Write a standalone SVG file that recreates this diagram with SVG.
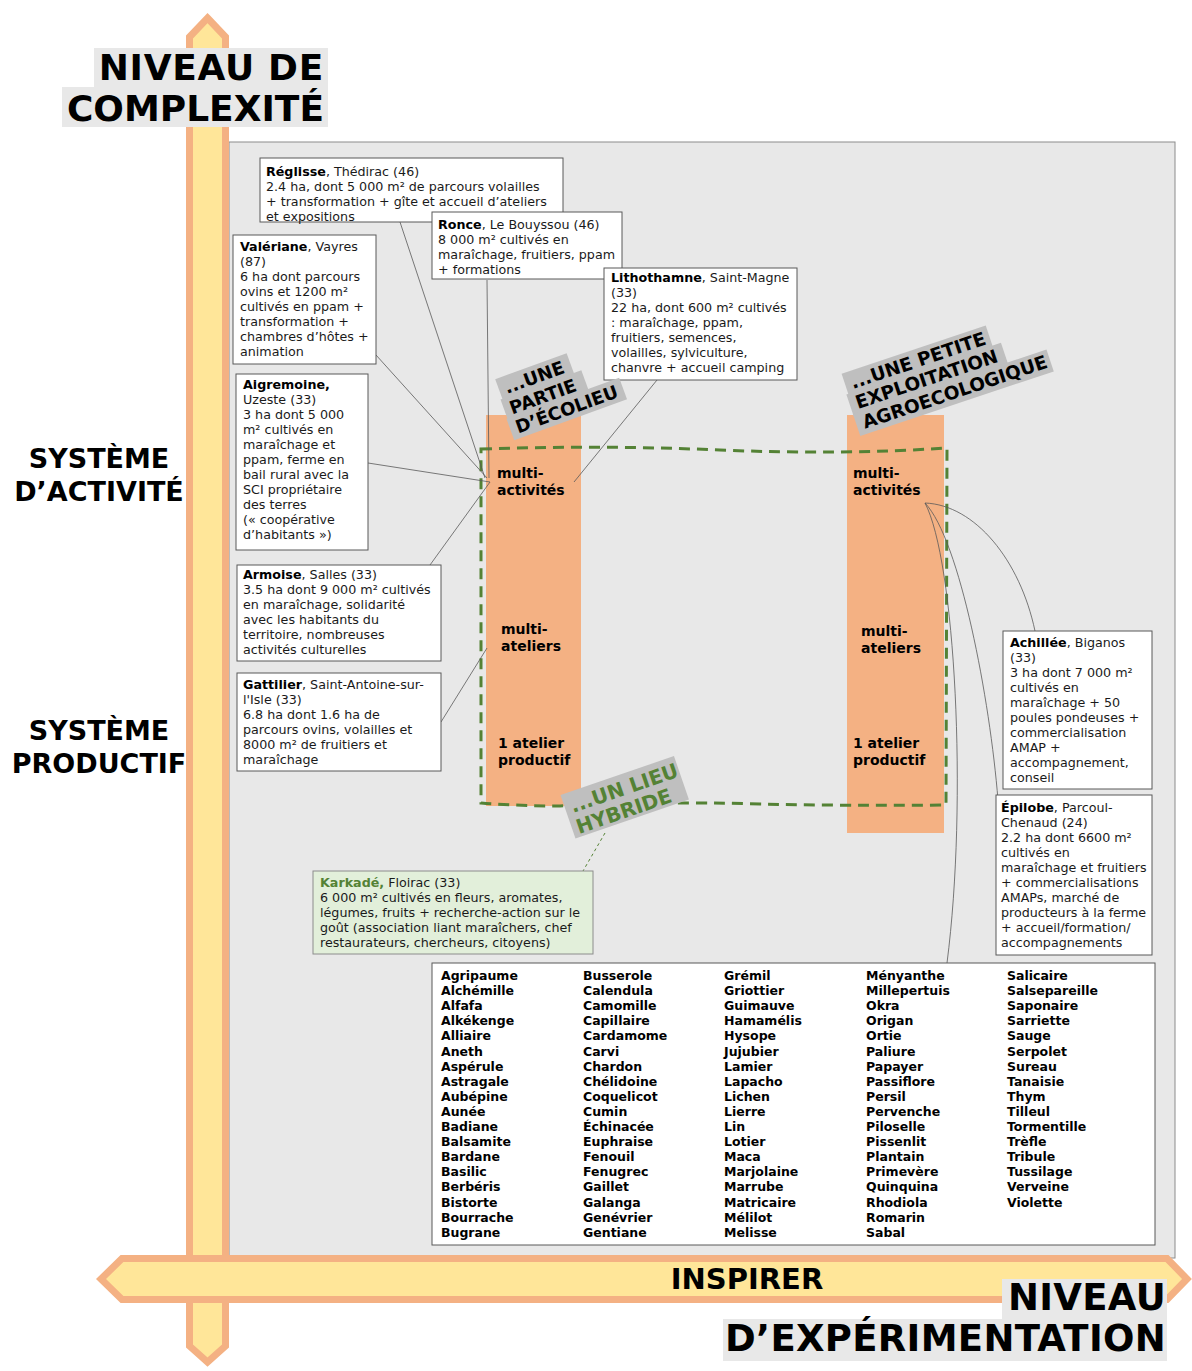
<svg xmlns="http://www.w3.org/2000/svg" width="1192" height="1371" viewBox="0 0 1192 1371">
<style>
.box{fill:#fff;stroke:#595959;stroke-width:1}
.kbox{fill:#E2EFDA;stroke:#8c8c8c;stroke-width:1}
.t{font-family:"DejaVu Sans",Verdana,sans-serif;font-size:12.7px;fill:#1a1a1a}
.b{font-weight:bold;fill:#000}
.lst{font-family:"DejaVu Sans",Verdana,sans-serif;font-size:12.5px;font-weight:bold;fill:#000}
.col{fill:#F4B183}
.ct{font-family:"DejaVu Sans",Verdana,sans-serif;font-size:14px;font-weight:bold;fill:#000}
.lbl{font-family:"DejaVu Sans",Verdana,sans-serif;font-weight:bold;font-size:18px;fill:#000}
.lbg{fill:#BFBFBF}
.conn{stroke:#595959;stroke-width:0.8;fill:none}
.arrow{fill:#FFE699;stroke:#F4B183;stroke-width:7;stroke-linejoin:miter}
.title{font-family:"DejaVu Sans",Verdana,sans-serif;font-weight:bold;font-size:37px;letter-spacing:0.3px;fill:#000}
.side{font-family:"DejaVu Sans",Verdana,sans-serif;font-weight:bold;font-size:27px;fill:#000}
.tbg{fill:#E8E8E8}
</style>

<g id="panel"><rect x="229" y="142" width="946" height="1116" fill="#E8E8E8" stroke="#8c8c8c" stroke-width="1"/></g>

<g id="columns">
<rect class="col" x="486" y="415" width="95" height="391"/>
<rect class="col" x="847" y="415" width="97" height="418"/>
<text class="ct" x="497" y="478">multi-<tspan x="497" dy="17">activités</tspan></text>
<text class="ct" x="501" y="634">multi-<tspan x="501" dy="17">ateliers</tspan></text>
<text class="ct" x="498" y="748">1 atelier<tspan x="498" dy="17">productif</tspan></text>
<text class="ct" x="853" y="478">multi-<tspan x="853" dy="17">activités</tspan></text>
<text class="ct" x="861" y="636">multi-<tspan x="861" dy="17">ateliers</tspan></text>
<text class="ct" x="853" y="748">1 atelier<tspan x="853" dy="17">productif</tspan></text>
</g>

<g id="hybrid-frame"><path d="M481,449 Q600,445 720,450 T947,448 L946,805 Q850,806 760,804 Q650,801 560,806 Q520,806 481,803 Z" fill="none" stroke="#548235" stroke-width="3" stroke-dasharray="11,7"/></g>

<g id="connectors">
<line class="conn" x1="400" y1="222" x2="485" y2="478"/>
<line class="conn" x1="487" y1="280" x2="489" y2="478"/>
<line class="conn" x1="376" y1="355" x2="487" y2="478"/>
<line class="conn" x1="368" y1="463" x2="490" y2="482"/>
<line class="conn" x1="430" y1="565" x2="490" y2="482"/>
<line class="conn" x1="441" y1="722" x2="487" y2="648"/>
<line class="conn" x1="657" y1="380" x2="574" y2="482"/>
<path class="conn" d="M925,503 C975,505 1020,560 1035,631"/>
<path class="conn" d="M925,503 C960,540 990,700 998,800"/>
<path class="conn" d="M925,503 C955,560 968,800 947,963"/>
<line x1="605" y1="833" x2="583" y2="871" stroke="#548235" stroke-width="1" stroke-dasharray="3,3"/>
</g>

<g id="reglisse"><rect class="box" x="260" y="158" width="303" height="64"/>
<text class="t" x="266" y="176"><tspan class="b">Réglisse</tspan>, Thédirac (46)<tspan x="266" dy="15">2.4 ha, dont 5 000 m² de parcours volailles</tspan><tspan x="266" dy="15">+ transformation + gîte et accueil d’ateliers</tspan><tspan x="266" dy="15">et expositions</tspan></text></g>

<g id="ronce"><rect class="box" x="432" y="212" width="190" height="67"/>
<text class="t" x="438" y="229"><tspan class="b">Ronce</tspan>, Le Bouyssou (46)<tspan x="438" dy="15">8 000 m² cultivés en</tspan><tspan x="438" dy="15">maraîchage, fruitiers, ppam</tspan><tspan x="438" dy="15">+ formations</tspan></text></g>

<g id="lithothamne"><rect class="box" x="604" y="268" width="193" height="112"/>
<text class="t" x="611" y="282"><tspan class="b">Lithothamne</tspan>, Saint-Magne<tspan x="611" dy="15">(33)</tspan><tspan x="611" dy="15">22 ha, dont 600 m² cultivés</tspan><tspan x="611" dy="15">: maraîchage, ppam,</tspan><tspan x="611" dy="15">fruitiers, semences,</tspan><tspan x="611" dy="15">volailles, sylviculture,</tspan><tspan x="611" dy="15">chanvre + accueil camping</tspan></text></g>

<g id="valeriane"><rect class="box" x="233" y="235" width="143" height="129"/>
<text class="t" x="240" y="251"><tspan class="b">Valériane</tspan>, Vayres<tspan x="240" dy="15">(87)</tspan><tspan x="240" dy="15">6 ha dont parcours</tspan><tspan x="240" dy="15">ovins et 1200 m²</tspan><tspan x="240" dy="15">cultivés en ppam +</tspan><tspan x="240" dy="15">transformation +</tspan><tspan x="240" dy="15">chambres d’hôtes +</tspan><tspan x="240" dy="15">animation</tspan></text></g>

<g id="aigremoine"><rect class="box" x="236" y="374" width="132" height="176"/>
<text class="t" x="243" y="389"><tspan class="b">Aigremoine,</tspan><tspan x="243" dy="15">Uzeste (33)</tspan><tspan x="243" dy="15">3 ha dont 5 000</tspan><tspan x="243" dy="15">m² cultivés en</tspan><tspan x="243" dy="15">maraîchage et</tspan><tspan x="243" dy="15">ppam, ferme en</tspan><tspan x="243" dy="15">bail rural avec la</tspan><tspan x="243" dy="15">SCI propriétaire</tspan><tspan x="243" dy="15">des terres</tspan><tspan x="243" dy="15">(« coopérative</tspan><tspan x="243" dy="15">d’habitants »)</tspan></text></g>

<g id="armoise"><rect class="box" x="237" y="565" width="204" height="96"/>
<text class="t" x="243" y="579"><tspan class="b">Armoise</tspan>, Salles (33)<tspan x="243" dy="15">3.5 ha dont 9 000 m² cultivés</tspan><tspan x="243" dy="15">en maraîchage, solidarité</tspan><tspan x="243" dy="15">avec les habitants du</tspan><tspan x="243" dy="15">territoire, nombreuses</tspan><tspan x="243" dy="15">activités culturelles</tspan></text></g>

<g id="gattilier"><rect class="box" x="237" y="673" width="204" height="98"/>
<text class="t" x="243" y="689"><tspan class="b">Gattilier</tspan>, Saint-Antoine-sur-<tspan x="243" dy="15">l'Isle (33)</tspan><tspan x="243" dy="15">6.8 ha dont 1.6 ha de</tspan><tspan x="243" dy="15">parcours ovins, volailles et</tspan><tspan x="243" dy="15">8000 m² de fruitiers et</tspan><tspan x="243" dy="15">maraîchage</tspan></text></g>

<g id="achillee"><rect class="box" x="1003" y="631" width="149" height="158"/>
<text class="t" x="1010" y="647"><tspan class="b">Achillée</tspan>, Biganos<tspan x="1010" dy="15">(33)</tspan><tspan x="1010" dy="15">3 ha dont 7 000 m²</tspan><tspan x="1010" dy="15">cultivés en</tspan><tspan x="1010" dy="15">maraîchage + 50</tspan><tspan x="1010" dy="15">poules pondeuses +</tspan><tspan x="1010" dy="15">commercialisation</tspan><tspan x="1010" dy="15">AMAP +</tspan><tspan x="1010" dy="15">accompagnement,</tspan><tspan x="1010" dy="15">conseil</tspan></text></g>

<g id="epilobe"><rect class="box" x="996" y="795" width="156" height="160"/>
<text class="t" x="1001" y="812"><tspan class="b">Épilobe</tspan>, Parcoul-<tspan x="1001" dy="15">Chenaud (24)</tspan><tspan x="1001" dy="15">2.2 ha dont 6600 m²</tspan><tspan x="1001" dy="15">cultivés en</tspan><tspan x="1001" dy="15">maraîchage et fruitiers</tspan><tspan x="1001" dy="15">+ commercialisations</tspan><tspan x="1001" dy="15">AMAPs, marché de</tspan><tspan x="1001" dy="15">producteurs à la ferme</tspan><tspan x="1001" dy="15">+ accueil/formation/</tspan><tspan x="1001" dy="15">accompagnements</tspan></text></g>

<g id="karkade"><rect class="kbox" x="313" y="871" width="280" height="83"/>
<text class="t" x="320" y="887"><tspan class="b" style="fill:#548235">Karkadé,</tspan> Floirac (33)<tspan x="320" dy="15">6 000 m² cultivés en fleurs, aromates,</tspan><tspan x="320" dy="15">légumes, fruits + recherche-action sur le</tspan><tspan x="320" dy="15">goût (association liant maraîchers, chef</tspan><tspan x="320" dy="15">restaurateurs, chercheurs, citoyens)</tspan></text></g>

<g id="plants"><rect class="box" x="432" y="963" width="723" height="282"/>
<text class="lst" x="441" y="980">Agripaume<tspan x="441" dy="15.1">Alchémille</tspan><tspan x="441" dy="15.1">Alfafa</tspan><tspan x="441" dy="15.1">Alkékenge</tspan><tspan x="441" dy="15.1">Alliaire</tspan><tspan x="441" dy="15.1">Aneth</tspan><tspan x="441" dy="15.1">Aspérule</tspan><tspan x="441" dy="15.1">Astragale</tspan><tspan x="441" dy="15.1">Aubépine</tspan><tspan x="441" dy="15.1">Aunée</tspan><tspan x="441" dy="15.1">Badiane</tspan><tspan x="441" dy="15.1">Balsamite</tspan><tspan x="441" dy="15.1">Bardane</tspan><tspan x="441" dy="15.1">Basilic</tspan><tspan x="441" dy="15.1">Berbéris</tspan><tspan x="441" dy="15.1">Bistorte</tspan><tspan x="441" dy="15.1">Bourrache</tspan><tspan x="441" dy="15.1">Bugrane</tspan></text>
<text class="lst" x="583" y="980">Busserole<tspan x="583" dy="15.1">Calendula</tspan><tspan x="583" dy="15.1">Camomille</tspan><tspan x="583" dy="15.1">Capillaire</tspan><tspan x="583" dy="15.1">Cardamome</tspan><tspan x="583" dy="15.1">Carvi</tspan><tspan x="583" dy="15.1">Chardon</tspan><tspan x="583" dy="15.1">Chélidoine</tspan><tspan x="583" dy="15.1">Coquelicot</tspan><tspan x="583" dy="15.1">Cumin</tspan><tspan x="583" dy="15.1">Échinacée</tspan><tspan x="583" dy="15.1">Euphraise</tspan><tspan x="583" dy="15.1">Fenouil</tspan><tspan x="583" dy="15.1">Fenugrec</tspan><tspan x="583" dy="15.1">Gaillet</tspan><tspan x="583" dy="15.1">Galanga</tspan><tspan x="583" dy="15.1">Genévrier</tspan><tspan x="583" dy="15.1">Gentiane</tspan></text>
<text class="lst" x="724" y="980">Grémil<tspan x="724" dy="15.1">Griottier</tspan><tspan x="724" dy="15.1">Guimauve</tspan><tspan x="724" dy="15.1">Hamamélis</tspan><tspan x="724" dy="15.1">Hysope</tspan><tspan x="724" dy="15.1">Jujubier</tspan><tspan x="724" dy="15.1">Lamier</tspan><tspan x="724" dy="15.1">Lapacho</tspan><tspan x="724" dy="15.1">Lichen</tspan><tspan x="724" dy="15.1">Lierre</tspan><tspan x="724" dy="15.1">Lin</tspan><tspan x="724" dy="15.1">Lotier</tspan><tspan x="724" dy="15.1">Maca</tspan><tspan x="724" dy="15.1">Marjolaine</tspan><tspan x="724" dy="15.1">Marrube</tspan><tspan x="724" dy="15.1">Matricaire</tspan><tspan x="724" dy="15.1">Mélilot</tspan><tspan x="724" dy="15.1">Melisse</tspan></text>
<text class="lst" x="866" y="980">Ményanthe<tspan x="866" dy="15.1">Millepertuis</tspan><tspan x="866" dy="15.1">Okra</tspan><tspan x="866" dy="15.1">Origan</tspan><tspan x="866" dy="15.1">Ortie</tspan><tspan x="866" dy="15.1">Paliure</tspan><tspan x="866" dy="15.1">Papayer</tspan><tspan x="866" dy="15.1">Passiflore</tspan><tspan x="866" dy="15.1">Persil</tspan><tspan x="866" dy="15.1">Pervenche</tspan><tspan x="866" dy="15.1">Piloselle</tspan><tspan x="866" dy="15.1">Pissenlit</tspan><tspan x="866" dy="15.1">Plantain</tspan><tspan x="866" dy="15.1">Primevère</tspan><tspan x="866" dy="15.1">Quinquina</tspan><tspan x="866" dy="15.1">Rhodiola</tspan><tspan x="866" dy="15.1">Romarin</tspan><tspan x="866" dy="15.1">Sabal</tspan></text>
<text class="lst" x="1007" y="980">Salicaire<tspan x="1007" dy="15.1">Salsepareille</tspan><tspan x="1007" dy="15.1">Saponaire</tspan><tspan x="1007" dy="15.1">Sarriette</tspan><tspan x="1007" dy="15.1">Sauge</tspan><tspan x="1007" dy="15.1">Serpolet</tspan><tspan x="1007" dy="15.1">Sureau</tspan><tspan x="1007" dy="15.1">Tanaisie</tspan><tspan x="1007" dy="15.1">Thym</tspan><tspan x="1007" dy="15.1">Tilleul</tspan><tspan x="1007" dy="15.1">Tormentille</tspan><tspan x="1007" dy="15.1">Trèfle</tspan><tspan x="1007" dy="15.1">Tribule</tspan><tspan x="1007" dy="15.1">Tussilage</tspan><tspan x="1007" dy="15.1">Verveine</tspan><tspan x="1007" dy="15.1">Violette</tspan></text>
</g>

<g id="label-ecolieu" transform="translate(507,394) rotate(-20)">
<rect class="lbg" x="-6" y="-18" width="76" height="23"/>
<rect class="lbg" x="-8" y="3" width="86" height="23"/>
<rect class="lbg" x="-9" y="23" width="120" height="23"/>
<text class="lbl" x="0" y="0">...UNE<tspan x="-2" dy="21">PARTIE</tspan><tspan x="-3" dy="20">D’ÉCOLIEU</tspan></text>
</g>

<g id="label-exploitation" transform="translate(853,389) rotate(-18.5)">
<rect class="lbg" x="-6" y="-18" width="152" height="23"/>
<rect class="lbg" x="-8" y="3" width="163" height="23"/>
<rect class="lbg" x="-8" y="24" width="204" height="23"/>
<text class="lbl" x="0" y="0" style="font-size:18.5px">...UNE PETITE<tspan x="-1.6" dy="20.5">EXPLOITATION</tspan><tspan x="-1.3" dy="21">AGROECOLOGIQUE</tspan></text>
</g>

<g id="label-hybride" transform="translate(573,813) rotate(-19)">
<rect class="lbg" x="-6" y="-21" width="120" height="46"/>
<text class="lbl" x="0" y="0" style="font-size:20px;fill:#548235">...UN LIEU<tspan x="-1.2" dy="21.8">HYBRIDE</tspan></text>
</g>

<g id="axis-vertical"><polygon class="arrow" points="207.5,18 225.5,37 225.5,1346 207.5,1362 189.5,1346 189.5,37"/></g>
<g id="axis-horizontal"><polygon class="arrow" points="101,1279 122,1258.5 1167,1258.5 1187,1279 1167,1299.5 122,1299.5"/>
<text class="side" x="747" y="1289" text-anchor="middle" style="font-size:29px">INSPIRER</text></g>

<g id="title-complexite">
<rect class="tbg" x="94" y="48" width="234" height="39"/>
<rect class="tbg" x="62" y="87" width="266" height="40"/>
<text class="title" x="324" y="80" text-anchor="end" style="font-size:36px;letter-spacing:0.7px">NIVEAU DE</text>
<text class="title" x="324" y="121" text-anchor="end" style="font-size:36px;letter-spacing:0">COMPLEXITÉ</text>
</g>

<g id="title-experimentation">
<rect class="tbg" x="1002" y="1279" width="165" height="40"/>
<rect class="tbg" x="723" y="1319" width="444" height="42"/>
<text class="title" x="1166" y="1310" text-anchor="end">NIVEAU</text>
<text class="title" x="1166" y="1351" text-anchor="end">D’EXPÉRIMENTATION</text>
</g>

<g id="side-labels">
<text class="side" x="99" y="468" text-anchor="middle">SYSTÈME</text>
<text class="side" x="99" y="501" text-anchor="middle">D’ACTIVITÉ</text>
<text class="side" x="99" y="740" text-anchor="middle">SYSTÈME</text>
<text class="side" x="99" y="773" text-anchor="middle">PRODUCTIF</text>
</g>
</svg>
